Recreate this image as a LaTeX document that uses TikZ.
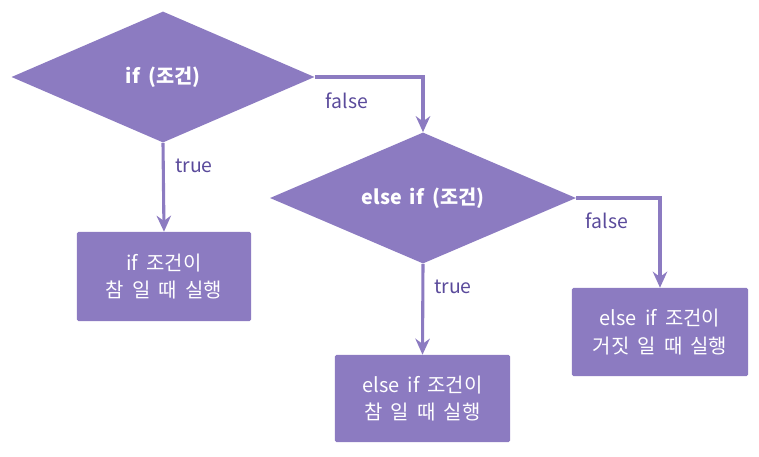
\documentclass[tikz,border=0pt]{standalone}
\usepackage{fontspec}
\setmainfont{Noto Sans CJK KR}[WordSpace=1.8]
\usetikzlibrary{arrows.meta, shapes.geometric}
\definecolor{violet}{HTML}{8C7BC1}
\definecolor{libelle}{HTML}{5A4A9B}
\tikzset{
  condition/.style={diamond, fill=violet, text=white, font=\fontsize{14}{16}\selectfont\bfseries,
    inner sep=0pt, aspect=2.3},
  action/.style={rectangle, rounded corners=1pt, fill=violet, text=white,
    font=\fontsize{14.2}{19.6}\selectfont, align=center, inner sep=0pt},
  fleche/.style={-{Stealth[length=4mm, width=3.6mm]}, line width=2.2pt, color=violet},
  etiquette/.style={font=\fontsize{13.8}{16}\selectfont, text=libelle}
}
\begin{document}
\begin{tikzpicture}[x=0.025cm, y=-0.025cm]
    \useasboundingbox (0,0) rectangle (759,456);
    % Conditions
    \node[condition, minimum width=7.575cm, minimum height=3.275cm] (si) at (163,77) {if (조건)};
    \node[condition, minimum width=7.65cm, minimum height=3.275cm] (sinon) at (423,198) {else if (조건)};

    % Actions
    \node[action, minimum width=4.35cm, minimum height=2.225cm] (vrai1) at (164,276.5) {if 조건이\\ 참 일 때 실행};
    \node[action, minimum width=4.375cm, minimum height=2.175cm] (vrai2) at (422.5,398.5) {else if 조건이\\ 참 일 때 실행};
    \node[action, minimum width=4.4cm, minimum height=2.2cm] (faux) at (660,332) {else if 조건이\\ 거짓 일 때 실행};

    % Liens
    \draw[fleche] (si.south) -- (vrai1.north);
    \draw[fleche] (si.east) -| (sinon.north);
    \draw[fleche] (sinon.south) -- (vrai2.north);
    \draw[fleche] (sinon.east) -| (faux.north);

    % Etiquettes
    \node[etiquette] (t1) at (194,166) {true};
    \node[etiquette] (f1) at (347,101) {false};
    \node[etiquette] (t2) at (453,287) {true};
    \node[etiquette] (f2) at (607,221) {false};
  \end{tikzpicture}
\end{document}
